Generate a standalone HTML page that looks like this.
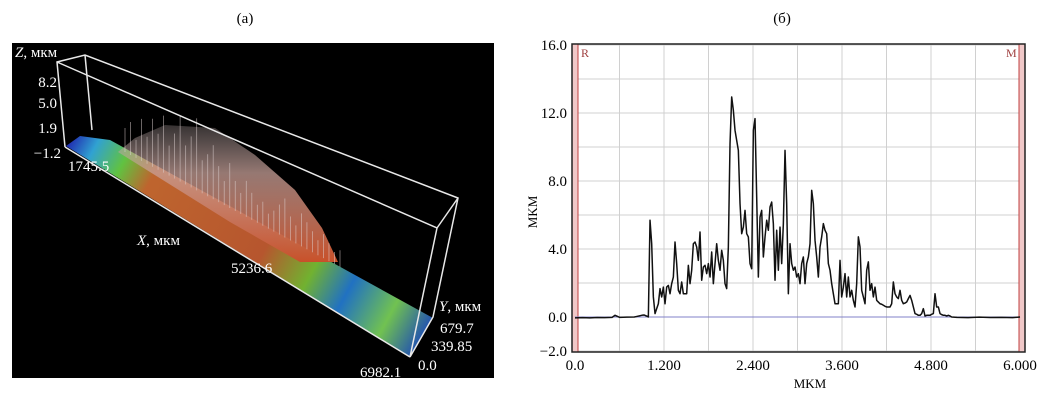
<!DOCTYPE html>
<html><head><meta charset="utf-8"><style>
body{margin:0;background:#fff;width:1056px;height:404px;overflow:hidden;font-family:"Liberation Serif",serif}
svg{position:absolute;left:0;top:0}
</style></head><body>
<svg width="1056" height="404">
<defs>
<linearGradient id="strip" gradientUnits="userSpaceOnUse" x1="70" y1="142" x2="425" y2="335">
<stop offset="0" stop-color="#2233bb"/><stop offset="0.06" stop-color="#33aadd"/><stop offset="0.14" stop-color="#66cc44"/>
<stop offset="0.22" stop-color="#c86a30"/><stop offset="0.55" stop-color="#c05a30"/><stop offset="0.68" stop-color="#77bb33"/>
<stop offset="0.78" stop-color="#2277cc"/><stop offset="0.9" stop-color="#77cc55"/><stop offset="1" stop-color="#2255bb"/>
</linearGradient>
<linearGradient id="hump" x1="0" y1="0" x2="0" y2="1">
<stop offset="0" stop-color="#b8a8a8" stop-opacity="0.3"/><stop offset="0.35" stop-color="#c8a098" stop-opacity="0.75"/><stop offset="1" stop-color="#c8502a"/>
</linearGradient>
</defs>
<text x="245" y="23" font-size="15" text-anchor="middle">(a)</text>
<text x="782" y="23" font-size="15" text-anchor="middle">(б)</text>
<g>
<rect x="12" y="43" width="482" height="335" fill="#000"/>
<polygon points="66,146 80,136 110,140 433,318 410,357" fill="url(#strip)" opacity="0.95"/>
<polygon points="118,152 135,138 165,125 215,128 255,155 295,190 322,228 338,262 300,262 230,222 150,172" fill="url(#hump)"/>
<g id="spikes" stroke="#e0d4d4" stroke-width="0.8" opacity="0.6"></g>
<g fill="none" stroke="#e8e8e8" stroke-width="1.5">
<polyline points="65,147 57,62 85,55 458,198 433,317 410,357 437,228 57,62"/>
<line x1="437" y1="228" x2="458" y2="198"/><line x1="65" y1="147" x2="410" y2="357"/><line x1="85" y1="55" x2="92" y2="130"/>
</g>
<g fill="#fff" font-size="15">
<text x="15" y="57"><tspan font-style="italic">Z</tspan>, мкм</text>
<text x="57" y="87" text-anchor="end">8.2</text>
<text x="57" y="108" text-anchor="end">5.0</text>
<text x="57" y="133" text-anchor="end">1.9</text>
<text x="61" y="158" text-anchor="end">−1.2</text>
<text x="68" y="171">1745.5</text>
<text x="137" y="245"><tspan font-style="italic">X</tspan>, мкм</text>
<text x="231" y="273">5236.6</text>
<text x="360" y="377">6982.1</text>
<text x="439" y="311"><tspan font-style="italic">Y</tspan>, мкм</text>
<text x="440" y="333">679.7</text>
<text x="431" y="351">339.85</text>
<text x="418" y="370">0.0</text>
</g>
</g>
<g id="chart"></g>
</svg>
<script>
const NS='http://www.w3.org/2000/svg';
const xTicks=['0.0','1.200','2.400','3.600','4.800','6.000'];
const xTickVals=[0,1.2,2.4,3.6,4.8,6.0];
const yTicks=['16.0','12.0','8.0','4.0','0.0','−2.0'];
const yTickVals=[16,12,8,4,0,-2];
const leadX=[0,0.1,0.2,0.3,0.4,0.5,0.54,0.6,0.7,0.8,0.9,0.93,0.97];
const leadY=[-0.05,-0.04,-0.05,-0.03,-0.04,-0.02,0.1,-0.02,-0.01,0.0,0.1,0.12,0.05];
const profStart=0.989, profStep=0.022472;
const profile=[0,5.69,4.31,1.18,0.2,0.49,0.78,1.67,1.18,1.76,0.78,1.76,1.86,1.37,1.96,2.35,4.41,3.14,1.57,1.37,2.06,1.37,1.37,1.37,3.04,1.96,2.75,4.31,4.41,4.12,3.33,5.0,2.16,2.94,3.04,2.55,3.14,2.35,3.82,1.96,3.14,4.31,3.33,2.75,3.92,3.33,1.96,1.67,4.12,10.2,12.94,12.16,10.98,10.39,9.8,6.67,4.9,5.29,6.27,4.9,4.71,3.14,2.84,10.98,11.67,7.06,2.35,5.88,6.27,3.53,4.71,5.69,5.1,6.47,6.76,5.49,2.16,5.1,2.75,5.29,3.14,5.49,9.8,6.67,1.37,4.31,3.14,2.75,2.94,2.35,2.55,1.96,3.14,3.53,1.96,3.14,3.53,4.31,7.45,6.67,4.51,3.53,2.35,4.12,4.71,5.49,5.1,4.9,3.14,2.75,1.96,1.37,0.78,0.78,0.78,3.33,1.18,1.76,2.55,1.18,2.35,1.18,1.57,0.98,0.59,1.96,4.71,4.12,1.57,1.18,0.78,2.75,3.24,1.57,1.96,1.18,1.76,0.98,0.88,0.78,0.75,0.69,0.63,0.59,0.59,0.59,0.78,2.06,1.37,1.18,1.08,1.57,0.98,0.78,0.82,0.88,1.08,1.27,0.98,0.59,0.2,0.16,0.1,0.1,0.2,0.49,0.06,0.1,0.1,0.1,0.16,0.2,1.37,0.59,0.59,0.2,0.14,0.1,0.1,0.06,0.1,0.06,0];
const tailX=[5.15,5.3,5.45,5.6,5.75,5.9,6.0];
const tailY=[-0.02,-0.04,-0.01,-0.03,-0.02,-0.04,0.0];
const spikeH=[40,55,30,70,45,80,60,95,50,75,110,65,85,120,55,70,90,60,40,75,50,35,60,45,30,40,25,35,50,65,40,30,55,45,35,25,40,30,20,28];

const X0=575,X1=1020,Y0=317,PPU=17;
const xs=v=>X0+(v-0)/6*(X1-X0);
const ys=v=>Y0-v*PPU;
const g=document.getElementById('chart');
function mk(t,a,p){const e=document.createElementNS(NS,t);for(const k in a)e.setAttribute(k,a[k]);(p||g).appendChild(e);return e;}
let e=mk('rect',{x:572,y:44,width:453,height:308,fill:'#fff',stroke:'none'});


for(let v=0.6;v<6;v+=0.6){e=mk('line',{x1:xs(v),x2:xs(v),y1:44,y2:352,stroke:'#d0d0d0','stroke-width':1});

}
for(let v=-2;v<=16;v+=2){e=mk('line',{x1:572,x2:1025,y1:ys(v),y2:ys(v),stroke:'#d0d0d0','stroke-width':1});

}
e=mk('rect',{x:572,y:44,width:6,height:308,fill:'#f0c8c8',stroke:'#c04040','stroke-width':1});


e=mk('rect',{x:1019,y:44,width:6,height:308,fill:'#f0c8c8',stroke:'#c04040','stroke-width':1});


e=mk('text',{x:581,y:57,'font-size':12,fill:'#a04040'});e.textContent='R';


e=mk('text',{x:1006,y:57,'font-size':12,fill:'#a04040'});e.textContent='M';


e=mk('line',{x1:xs(0),x2:xs(6),y1:ys(0),y2:ys(0),stroke:'#8080c8','stroke-width':1});


let pts=[];
leadX.forEach((x,i)=>pts.push(xs(x)+','+ys(leadY[i])));
profile.forEach((v,i)=>pts.push(xs(profStart+i*profStep)+','+ys(v)));
tailX.forEach((x,i)=>pts.push(xs(x)+','+ys(tailY[i])));
e=mk('polyline',{points:pts.join(' '),fill:'none',stroke:'#111','stroke-width':1.5,'stroke-linejoin':'round'});


e=mk('rect',{x:572,y:44,width:453,height:308,fill:'none',stroke:'#222','stroke-width':1.5});


xTicks.forEach((t,i)=>{e=mk('text',{x:xs(xTickVals[i]),y:370,'font-size':15,'text-anchor':'middle'});e.textContent=t;

});
yTicks.forEach((t,i)=>{e=mk('text',{x:567,y:ys(yTickVals[i])+5,'font-size':15,'text-anchor':'end'});e.textContent=t;

});
e=mk('text',{x:810,y:388,'font-size':13,'text-anchor':'middle'});e.textContent='MKM';


e=mk('text',{x:0,y:0,'font-size':13,'text-anchor':'middle',transform:'translate(537,212) rotate(-90)'});e.textContent='MKM';


const sp=document.getElementById('spikes');
spikeH.forEach((h,i)=>{const t=i/(spikeH.length-1);const bx=125+t*215,by=152+t*115;
const l=mk('line',{x1:bx,y1:by,x2:bx,y2:by-h*0.6},sp);

});
</script>
</body></html>
